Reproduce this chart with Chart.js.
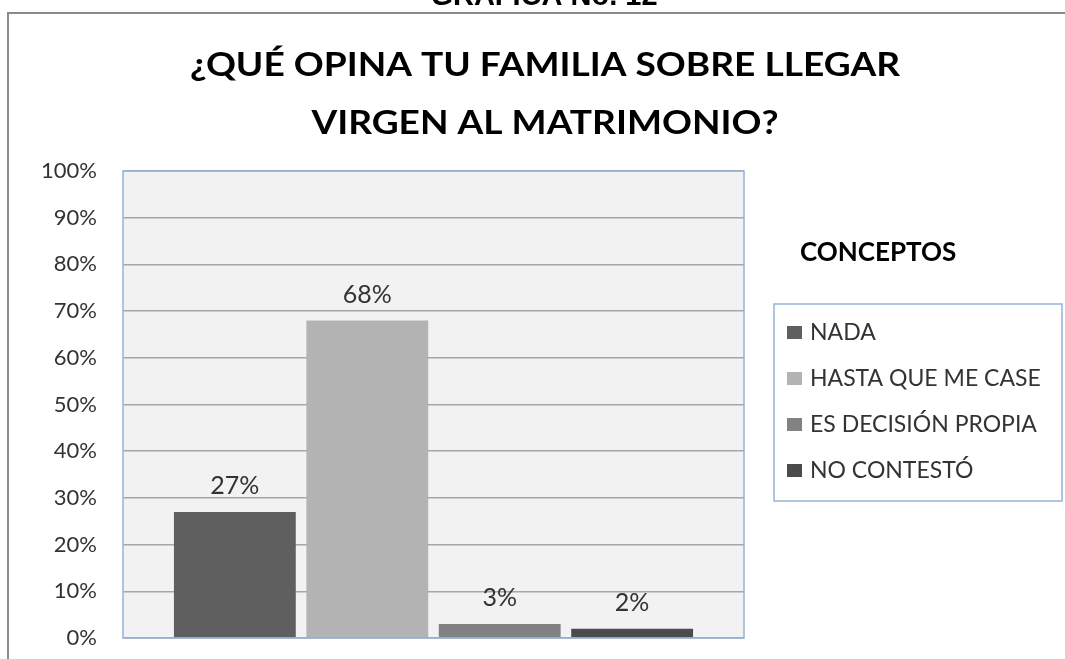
<!DOCTYPE html>
<html>
<head>
<meta charset="utf-8">
<script src="https://cdn.jsdelivr.net/npm/chart.js@4.4.0/dist/chart.umd.min.js"></script>
<style>
  html, body { margin: 0; padding: 0; background: #fff; }
  #wrap { width: 1065px; height: 659px; position: relative; }
</style>
</head>
<body>
<div id="wrap"><canvas id="chart-grafica"></canvas></div>
<script>
// Chart data
const SERIES_NAMES = ['NADA', 'HASTA QUE ME CASE', 'ES DECISIÓN PROPIA', 'NO CONTESTÓ'];
const SERIES_VALUES = [27, 68, 3, 2];
const SERIES_COLORS = ['#5f5f5f', '#b3b3b3', '#828282', '#4b4b4b'];
const Y_TICKS = [0, 10, 20, 30, 40, 50, 60, 70, 80, 90, 100];
const TITLE_LINES = ['¿QUÉ OPINA TU FAMILIA SOBRE LLEGAR', 'VIRGEN AL MATRIMONIO?'];
const PAGE_HEADER = 'GRAFICA No. 12';
const LEGEND_TITLE = 'CONCEPTOS';

const FONT = 'Lato';

// frame, plot background, title, border, legend and value labels
const decorPlugin = {
  id: 'decor',
  beforeDraw(chart) {
    const { ctx, chartArea: a } = chart;
    ctx.save();
    // page header (cut off at top)
    ctx.fillStyle = '#000';
    ctx.font = 'bold 29px "Liberation Sans", Arial';
    ctx.textAlign = 'center';
    ctx.textBaseline = 'alphabetic';
    ctx.fillText(PAGE_HEADER, 544, 5);
    // outer frame
    ctx.strokeStyle = '#8a8a8a';
    ctx.lineWidth = 2;
    ctx.beginPath();
    ctx.moveTo(8, 659);
    ctx.lineTo(8, 13);
    ctx.lineTo(1065, 13);
    ctx.stroke();
    // title, stretched a little so it has the width of the original
    ctx.font = `bold 33px ${FONT}`;
    ctx.textBaseline = 'middle';
    const sx = 710 / ctx.measureText(TITLE_LINES[0]).width;
    TITLE_LINES.forEach((t, i) => {
      ctx.save();
      ctx.translate(545, 65 + i * 58);
      ctx.scale(sx, 1);
      ctx.fillText(t, 0, 0);
      ctx.restore();
    });
    // plot background
    ctx.fillStyle = '#f2f2f2';
    ctx.fillRect(a.left, a.top, a.right - a.left, a.bottom - a.top);
    ctx.restore();
  },
  afterDatasetsDraw(chart) {
    const { ctx, chartArea: a } = chart;
    ctx.save();
    // plot border
    ctx.strokeStyle = '#95b3d7';
    ctx.lineWidth = 1.5;
    ctx.strokeRect(a.left, a.top, a.right - a.left, a.bottom - a.top);
    // value labels
    ctx.fillStyle = '#333';
    ctx.font = `25px ${FONT}`;
    ctx.textAlign = 'center';
    ctx.textBaseline = 'middle';
    chart.data.datasets.forEach((ds, i) => {
      const bar = chart.getDatasetMeta(i).data[0];
      ctx.fillText(ds.data[0] + '%', bar.x, bar.y - 26);
    });
    // legend
    ctx.fillStyle = '#000';
    ctx.font = `bold 26px ${FONT}`;
    ctx.textAlign = 'left';
    ctx.fillText(LEGEND_TITLE, 800, 253);
    ctx.strokeStyle = '#95b3d7';
    ctx.lineWidth = 1.5;
    ctx.strokeRect(774, 304, 288, 197);
    ctx.font = `23px ${FONT}`;
    chart.data.datasets.forEach((ds, i) => {
      const y = 332 + i * 46;
      ctx.fillStyle = ds.backgroundColor;
      ctx.fillRect(787, y - 6, 15, 13);
      ctx.fillStyle = '#333';
      ctx.fillText(ds.label, 810, y + 1);
    });
    ctx.restore();
  }
};

const datasets = SERIES_NAMES.map((name, i) => ({
  label: name,
  data: [SERIES_VALUES[i]],
  backgroundColor: SERIES_COLORS[i],
  borderWidth: 0,
  categoryPercentage: 0.853,
  barPercentage: 0.92
}));

new Chart(document.getElementById('chart-grafica'), {
  type: 'bar',
  data: { labels: [''], datasets },
  options: {
    responsive: true,
    maintainAspectRatio: false,
    animation: false,
    layout: { padding: { left: 0, right: 321, top: 171, bottom: 21 } },
    plugins: {
      legend: { display: false },
      title: { display: false },
      tooltip: { enabled: false }
    },
    scales: {
      x: { display: false },
      y: {
        min: 0,
        max: 100,
        afterFit: (s) => { s.width = 123; s.paddingTop = 0; s.paddingBottom = 0; },
        afterBuildTicks: (s) => { s.ticks = Y_TICKS.map(v => ({ value: v })); },
        border: { display: false },
        grid: { color: '#a6a6a6', lineWidth: 1.5, drawTicks: false },
        ticks: {
          padding: 26,
          color: '#333',
          font: { family: FONT, size: 22 },
          callback: (v) => v + '%'
        }
      }
    }
  },
  plugins: [decorPlugin]
});
</script>
</body>
</html>
